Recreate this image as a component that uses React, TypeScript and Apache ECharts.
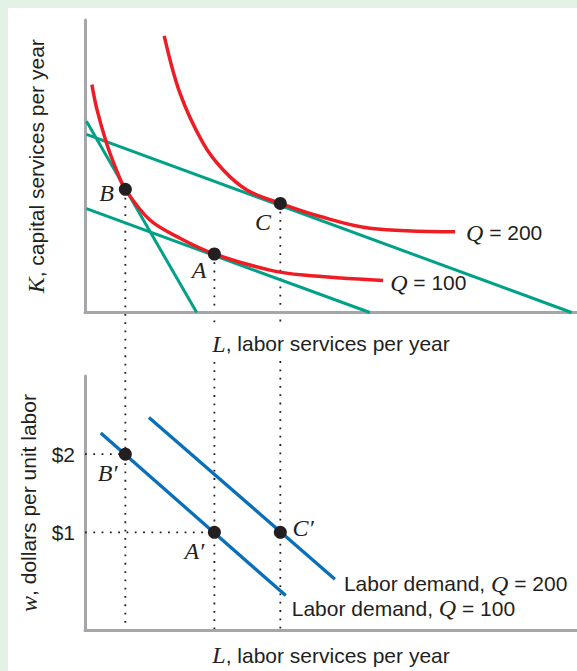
import React, { useEffect, useRef } from 'react';
import * as echarts from 'echarts';

// ---- data (L = labor, K = capital, w = wage) ----
const L_MIN = 0;
const L_MAX = 100;
const K_MIN = 0;
const K_MAX = 100;
const W_MIN = -0.25;
const W_MAX = 3;
const wageTicks = [1, 2];

const isoquant100: number[][] = [
  [1.4, 77.9], [2.4, 69.6], [4.4, 57.8], [6.4, 48.7], [8.2, 42.1], [13.2, 31.6],
  [19.3, 25.4], [26.3, 20.0], [37.6, 14.5], [44.4, 12.8], [60.6, 10.9],
];
const isoquant200: number[][] = [
  [16.1, 94.6], [19.3, 75.0], [24.0, 57.9], [28.1, 48.7], [32.9, 41.9],
  [39.7, 37.3], [47.8, 32.8], [57.9, 28.8], [75.2, 27.6],
];
const isocostSteep: number[][] = [[0.3, 65.4], [22.7, 0]];
const isocostLow: number[][] = [[0.3, 35.5], [57.9, 0]];
const isocostHigh: number[][] = [[0.3, 60.9], [98.9, 0]];

const topPointNames = ['B', 'A', 'C'];
const topPoints: number[][] = [[8.2, 42.1], [26.3, 20.0], [39.7, 37.3]];
const bottomPointNames = ['B′', 'A′', 'C′'];
const bottomPoints: number[][] = [[8.2, 2], [26.3, 1], [39.7, 1]];

const demand100: number[][] = [[3.2, 2.27], [40.8, 0.19]];
const demand200: number[][] = [[13.0, 2.47], [50.8, 0.4]];

const wageGuide2: number[][] = [[0, 2], [8.2, 2]];
const wageGuide1: number[][] = [[0, 1], [26.3, 1]];

// ---- styles ----
const GREEN_BG = '#e3f1e7';
const TEXT = '#231f20';
const RED = '#ee1d25';
const TEAL = '#00a187';
const BLUE = '#0a6fba';
const AXIS = '#a4a6a9';
const SANS = 'Liberation Sans, Arial, sans-serif';
const SERIF = 'Liberation Serif, Times New Roman, serif';

const rich = {
  i: { fontFamily: SERIF, fontStyle: 'italic' as const, fontSize: 24, color: TEXT },
};

const topLabelOffsets = [[-18.7, 3.7], [-15.3, 16], [-17.4, 18.4]];
const bottomLabelOffsets = [[-17.7, 18.4], [-20, 18.4], [22.8, -4.3]];

function axisLineCfg() {
  return { show: true, onZero: false, lineStyle: { color: AXIS, width: 3 } };
}

export default function App() {
  const ref = useRef<HTMLDivElement>(null);

  useEffect(() => {
    document.body.style.margin = '0';
    document.body.style.overflow = 'hidden';
    const chart = echarts.init(ref.current as HTMLDivElement, null, { renderer: 'svg' });

    const nameStyle = {
      fontFamily: SANS,
      fontSize: 21,
      color: TEXT,
      rich,
    };

    const pointSeries = (
      names: string[],
      pts: number[][],
      offsets: number[][],
      axisIdx: number,
    ) => ({
      type: 'scatter',
      xAxisIndex: axisIdx,
      yAxisIndex: axisIdx,
      symbolSize: 13,
      itemStyle: { color: TEXT, opacity: 1 },
      z: 5,
      data: pts.map((p, i) => ({
        value: p,
        label: {
          show: true,
          position: 'inside',
          offset: offsets[i],
          formatter: names[i],
          fontFamily: SERIF,
          fontStyle: 'italic',
          fontSize: 24,
          color: TEXT,
          textBorderWidth: 0,
        },
      })),
    });

    const option: any = {
      animation: false,
      backgroundColor: '#ffffff',
      grid: [
        { left: 77, right: 0, top: 12, height: 292.5 },
        { left: 77, right: 0, top: 368, height: 254 },
      ],
      xAxis: [
        {
          type: 'value', gridIndex: 0, min: L_MIN, max: L_MAX,
          axisLine: axisLineCfg(), axisTick: { show: false }, axisLabel: { show: false },
          splitLine: { show: false },
          name: '{i|L}, labor services per year', nameLocation: 'middle', nameGap: 15,
          nameTextStyle: { ...nameStyle, backgroundColor: '#ffffff', padding: [4, 4] },
        },
        {
          type: 'value', gridIndex: 1, min: L_MIN, max: L_MAX,
          axisLine: axisLineCfg(), axisTick: { show: false }, axisLabel: { show: false },
          splitLine: { show: false },
          name: '{i|L}, labor services per year', nameLocation: 'middle', nameGap: 13,
          nameTextStyle: nameStyle,
        },
      ],
      yAxis: [
        {
          type: 'value', gridIndex: 0, min: K_MIN, max: K_MAX,
          axisLine: axisLineCfg(), axisTick: { show: false }, axisLabel: { show: false },
          splitLine: { show: false },
          name: '{i|K}, capital services per year', nameLocation: 'middle', nameGap: 37,
          nameRotate: 90, nameTextStyle: nameStyle,
        },
        {
          type: 'value', gridIndex: 1, min: W_MIN, max: W_MAX,
          axisLine: axisLineCfg(), axisTick: { show: false },
          axisLabel: {
            show: true, customValues: wageTicks, formatter: (v: number) => `$${v}`,
            fontFamily: SANS, fontSize: 21, color: TEXT, margin: 10,
          },
          splitLine: { show: false },
          name: '{i|w}, dollars per unit labor', nameLocation: 'middle', nameGap: 37,
          nameRotate: 90, nameTextStyle: nameStyle,
        },
      ],
      series: [
        {
          type: 'line', xAxisIndex: 0, yAxisIndex: 0, data: isocostSteep, symbol: 'none',
          lineStyle: { color: TEAL, width: 3 }, z: 2,
        },
        {
          type: 'line', xAxisIndex: 0, yAxisIndex: 0, data: isocostLow, symbol: 'none',
          lineStyle: { color: TEAL, width: 3 }, z: 2,
        },
        {
          type: 'line', xAxisIndex: 0, yAxisIndex: 0, data: isocostHigh, symbol: 'none',
          lineStyle: { color: TEAL, width: 3 }, z: 2,
        },
        {
          type: 'line', xAxisIndex: 0, yAxisIndex: 0, data: isoquant100, symbol: 'none',
          smooth: 0.35, lineStyle: { color: RED, width: 3.5 }, z: 3,
          endLabel: {
            show: true, formatter: '{i|Q} = 100', distance: 7, offset: [0, 2],
            fontFamily: SANS, fontSize: 21, color: TEXT, rich,
          },
        },
        {
          type: 'line', xAxisIndex: 0, yAxisIndex: 0, data: isoquant200, symbol: 'none',
          smooth: 0.35, lineStyle: { color: RED, width: 3.5 }, z: 3,
          endLabel: {
            show: true, formatter: '{i|Q} = 200', distance: 11, offset: [0, 1],
            fontFamily: SANS, fontSize: 21, color: TEXT, rich,
          },
        },
        pointSeries(topPointNames, topPoints, topLabelOffsets, 0),
        {
          type: 'line', xAxisIndex: 1, yAxisIndex: 1, data: wageGuide2, symbol: 'none',
          lineStyle: { color: TEXT, width: 1.8, type: [1.8, 6.5] }, z: 1,
        },
        {
          type: 'line', xAxisIndex: 1, yAxisIndex: 1, data: wageGuide1, symbol: 'none',
          lineStyle: { color: TEXT, width: 1.8, type: [1.8, 6.5] }, z: 1,
        },
        {
          type: 'line', xAxisIndex: 1, yAxisIndex: 1, data: demand100, symbol: 'none',
          lineStyle: { color: BLUE, width: 3.3 }, z: 3,
          endLabel: {
            show: true, formatter: 'Labor demand, {i|Q} = 100', distance: 0, offset: [6, 12.6],
            fontFamily: SANS, fontSize: 21, color: TEXT, rich,
          },
        },
        {
          type: 'line', xAxisIndex: 1, yAxisIndex: 1, data: demand200, symbol: 'none',
          lineStyle: { color: BLUE, width: 3.3 }, z: 3,
          endLabel: {
            show: true, formatter: 'Labor demand, {i|Q} = 200', distance: 0, offset: [9, 4.7],
            fontFamily: SANS, fontSize: 21, color: TEXT, rich,
          },
        },
        pointSeries(bottomPointNames, bottomPoints, bottomLabelOffsets, 1),
      ],
    };

    chart.setOption(option);

    const guides = topPoints.map((p) => {
      const a = chart.convertToPixel({ gridIndex: 0 }, p) as number[];
      const b = chart.convertToPixel({ gridIndex: 1 }, [p[0], W_MIN]) as number[];
      return {
        type: 'line',
        z: -1,
        shape: { x1: a[0], y1: a[1], x2: b[0], y2: b[1] },
        style: { stroke: TEXT, lineWidth: 1.8, lineDash: [1.8, 6.5] },
      };
    });
    chart.setOption({ graphic: guides });

    return () => chart.dispose();
  }, []);

  return (
    <div style={{ background: GREEN_BG, paddingLeft: 8, paddingTop: 8, width: 569, height: 663 }}>
      <div ref={ref} style={{ width: 569, height: 663, background: '#ffffff' }} />
    </div>
  );
}
